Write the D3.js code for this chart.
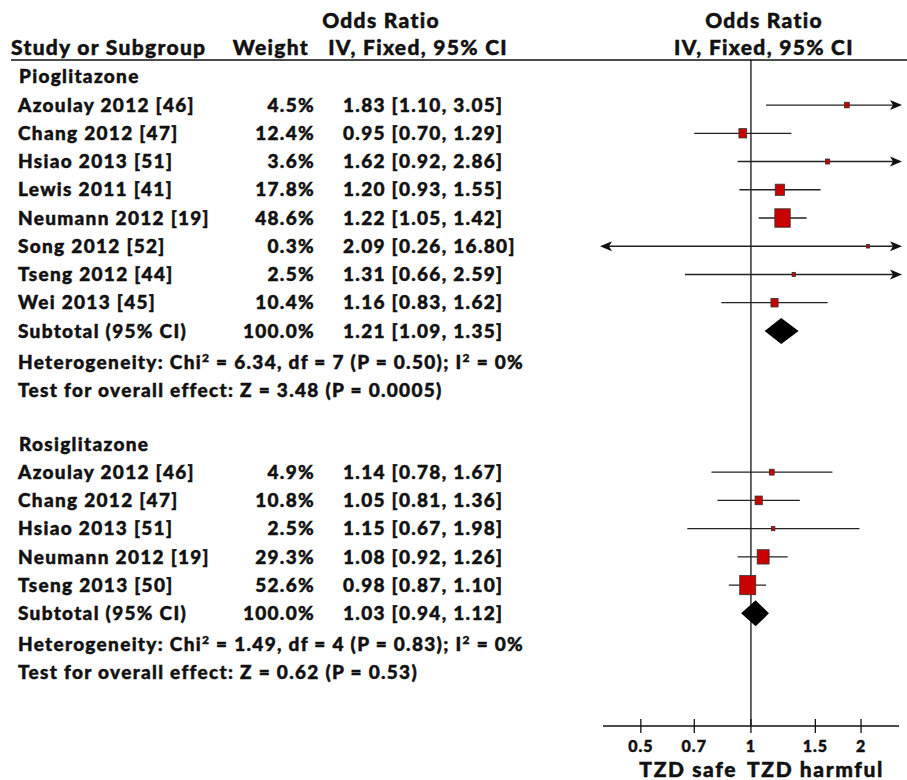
<!DOCTYPE html>
<html>
<head>
<meta charset="utf-8">
<script src="https://cdn.jsdelivr.net/npm/d3@7"></script>
<style>
  body { margin: 0; background: #fff; }
  svg text {
    font-family: Lato, "Open Sans", sans-serif; font-weight: 900; fill: #111;
    stroke: #111; stroke-width: 0.45px; letter-spacing: 1.3px;
  }
</style>
</head>
<body>
<svg id="chart" width="907" height="780"></svg>
<script>
// Pioglitazone
const pioStudies = ["Azoulay 2012 [46]", "Chang 2012 [47]", "Hsiao 2013 [51]", "Lewis 2011 [41]",
  "Neumann 2012 [19]", "Song 2012 [52]", "Tseng 2012 [44]", "Wei 2013 [45]"];
const pioWeight = [4.5, 12.4, 3.6, 17.8, 48.6, 0.3, 2.5, 10.4];
const pioOR = [1.83, 0.95, 1.62, 1.20, 1.22, 2.09, 1.31, 1.16];
const pioLow = [1.10, 0.70, 0.92, 0.93, 1.05, 0.26, 0.66, 0.83];
const pioHigh = [3.05, 1.29, 2.86, 1.55, 1.42, 16.80, 2.59, 1.62];

// Rosiglitazone
const rosiStudies = ["Azoulay 2012 [46]", "Chang 2012 [47]", "Hsiao 2013 [51]",
  "Neumann 2012 [19]", "Tseng 2013 [50]"];
const rosiWeight = [4.9, 10.8, 2.5, 29.3, 52.6];
const rosiOR = [1.14, 1.05, 1.15, 1.08, 0.98];
const rosiLow = [0.78, 0.81, 0.67, 0.92, 0.87];
const rosiHigh = [1.67, 1.36, 1.98, 1.26, 1.10];

// subtotals and tests, one entry per subgroup
const subgroups = ["Pioglitazone", "Rosiglitazone"];
const subOR = [1.21, 1.03];
const subLow = [1.09, 0.94];
const subHigh = [1.35, 1.12];
const chi2 = ["6.34", "1.49"];
const df = [7, 4];
const hetP = ["0.50", "0.83"];
const i2 = [0, 0];
const zVal = ["3.48", "0.62"];
const zP = ["0.0005", "0.53"];

const tickValues = [0.5, 0.7, 1, 1.5, 2];
const tickLabels = ["0.5", "0.7", "1", "1.5", "2"];

const groups = [
  { name: subgroups[0], studies: pioStudies, w: pioWeight, or: pioOR, lo: pioLow, hi: pioHigh },
  { name: subgroups[1], studies: rosiStudies, w: rosiWeight, or: rosiOR, lo: rosiLow, hi: rosiHigh }
];

const svg = d3.select("#chart");
const fs = 19;

// scales
const x = d3.scaleLog().domain([0.394, 2.54]).range([603, 899]);
const y = d3.scaleLinear().domain([0, 1]).range([76.8, 105.04]);
const axisY = 726;

// headers
const head = svg.append("g").style("font-size", "21px").style("letter-spacing", "1.3px");
head.append("text").attr("x", 381).attr("y", 28).attr("text-anchor", "middle").text("Odds Ratio");
head.append("text").attr("x", 764).attr("y", 28).attr("text-anchor", "middle").text("Odds Ratio");
head.append("text").attr("x", 11).attr("y", 55).text("Study or Subgroup");
head.append("text").attr("x", 309).attr("y", 55).attr("text-anchor", "end").text("Weight");
head.append("text").attr("x", 508).attr("y", 55).attr("text-anchor", "end").text("IV, Fixed, 95% CI");
head.append("text").attr("x", 764).attr("y", 55).attr("text-anchor", "middle").text("IV, Fixed, 95% CI");

svg.append("line")
  .attr("x1", 11).attr("x2", 907).attr("y1", 60).attr("y2", 60)
  .attr("stroke", "#111").attr("stroke-width", 1.3);

// line of no effect
svg.append("line")
  .attr("x1", x(1)).attr("x2", x(1)).attr("y1", 60).attr("y2", axisY)
  .attr("stroke", "#111").attr("stroke-width", 1.3);

const fmt = d3.format(".2f");
const ciText = (o, l, h) => `${fmt(o)} [${fmt(l)}, ${fmt(h)}]`;
const [xMin, xMax] = x.domain();

function arrowHead(g, xe, yc, dir) {
  const tip = xe + dir * 3;
  g.append("path")
    .attr("d", `M${tip},${yc} L${tip - dir * 12},${yc - 5} L${tip - dir * 9},${yc} L${tip - dir * 12},${yc + 5} Z`)
    .attr("fill", "#111");
}

const body = svg.append("g").style("font-size", fs + "px");
let idx = 0;

groups.forEach((grp, gi) => {
  body.append("text").attr("x", 19).attr("y", y(idx)).attr("dy", "0.35em").text(grp.name);

  grp.studies.forEach((name, i) => {
    const yc = y(idx + 1 + i);
    body.append("text").attr("x", 18).attr("y", yc).attr("dy", "0.35em").text(name);
    body.append("text").attr("x", 315).attr("y", yc).attr("dy", "0.35em")
      .attr("text-anchor", "end").text(grp.w[i].toFixed(1) + "%");
    body.append("text").attr("x", 343).attr("y", yc).attr("dy", "0.35em")
      .text(ciText(grp.or[i], grp.lo[i], grp.hi[i]));

    // CI line, clipped to the axis range
    const lo = Math.max(grp.lo[i], xMin), hi = Math.min(grp.hi[i], xMax);
    body.append("line")
      .attr("x1", x(lo)).attr("x2", x(hi)).attr("y1", yc).attr("y2", yc)
      .attr("stroke", "#222").attr("stroke-width", 1.3);
    if (grp.lo[i] < xMin) arrowHead(body, x(xMin), yc, -1);
    if (grp.hi[i] > xMax) arrowHead(body, x(xMax), yc, 1);

    const side = Math.max(3, 16 * Math.sqrt(grp.w[i] / 52.6));
    body.append("rect")
      .attr("x", x(grp.or[i]) - side / 2).attr("y", yc - side * 0.6)
      .attr("width", side).attr("height", side * 1.2)
      .attr("fill", "#c80000").attr("stroke", "#333").attr("stroke-width", 0.8);
  });

  const ys = y(idx + grp.studies.length + 1);
  body.append("text").attr("x", 18).attr("y", ys).attr("dy", "0.35em").text("Subtotal (95% CI)");
  body.append("text").attr("x", 315).attr("y", ys).attr("dy", "0.35em")
    .attr("text-anchor", "end").text("100.0%");
  body.append("text").attr("x", 343).attr("y", ys).attr("dy", "0.35em")
    .text(ciText(subOR[gi], subLow[gi], subHigh[gi]));
  const h = 13;
  body.append("path")
    .attr("d", `M${x(subLow[gi])},${ys} L${x(subOR[gi])},${ys - h} L${x(subHigh[gi])},${ys} L${x(subOR[gi])},${ys + h} Z`)
    .attr("fill", "#000");

  const het = body.append("text").attr("x", 18).attr("y", y(idx + grp.studies.length + 2) + 3).attr("dy", "0.35em");
  het.append("tspan").text("Heterogeneity: Chi");
  het.append("tspan").attr("baseline-shift", "super").style("font-size", "12px").text("2");
  het.append("tspan").text(` = ${chi2[gi]}, df = ${df[gi]} (P = ${hetP[gi]}); I`);
  het.append("tspan").attr("baseline-shift", "super").style("font-size", "12px").text("2");
  het.append("tspan").text(` = ${i2[gi]}%`);

  body.append("text").attr("x", 18).attr("y", y(idx + grp.studies.length + 3) + 3).attr("dy", "0.35em")
    .text(`Test for overall effect: Z = ${zVal[gi]} (P = ${zP[gi]})`);

  idx += grp.studies.length + 5;
});

// axis
const axis = svg.append("g").attr("transform", `translate(0, ${axisY})`);
axis.append("line").attr("x1", x.range()[0]).attr("x2", x.range()[1])
  .attr("stroke", "#111").attr("stroke-width", 1.3);
axis.selectAll(".tick").data(tickValues).enter().append("line")
  .attr("x1", d => x(d)).attr("x2", d => x(d)).attr("y1", -7).attr("y2", 7)
  .attr("stroke", "#111").attr("stroke-width", 1.3);
axis.selectAll(".lbl").data(tickValues).enter().append("text")
  .attr("x", d => x(d)).attr("y", 26).attr("text-anchor", "middle")
  .style("font-size", "16px").style("letter-spacing", "1px").text((d, i) => tickLabels[i]);

svg.append("text").attr("x", 737).attr("y", 777).attr("text-anchor", "end")
  .style("font-size", "21px").style("letter-spacing", "1.6px").text("TZD safe");
svg.append("text").attr("x", 747).attr("y", 777)
  .style("font-size", "21px").style("letter-spacing", "1.6px").text("TZD harmful");
</script>
</body>
</html>
